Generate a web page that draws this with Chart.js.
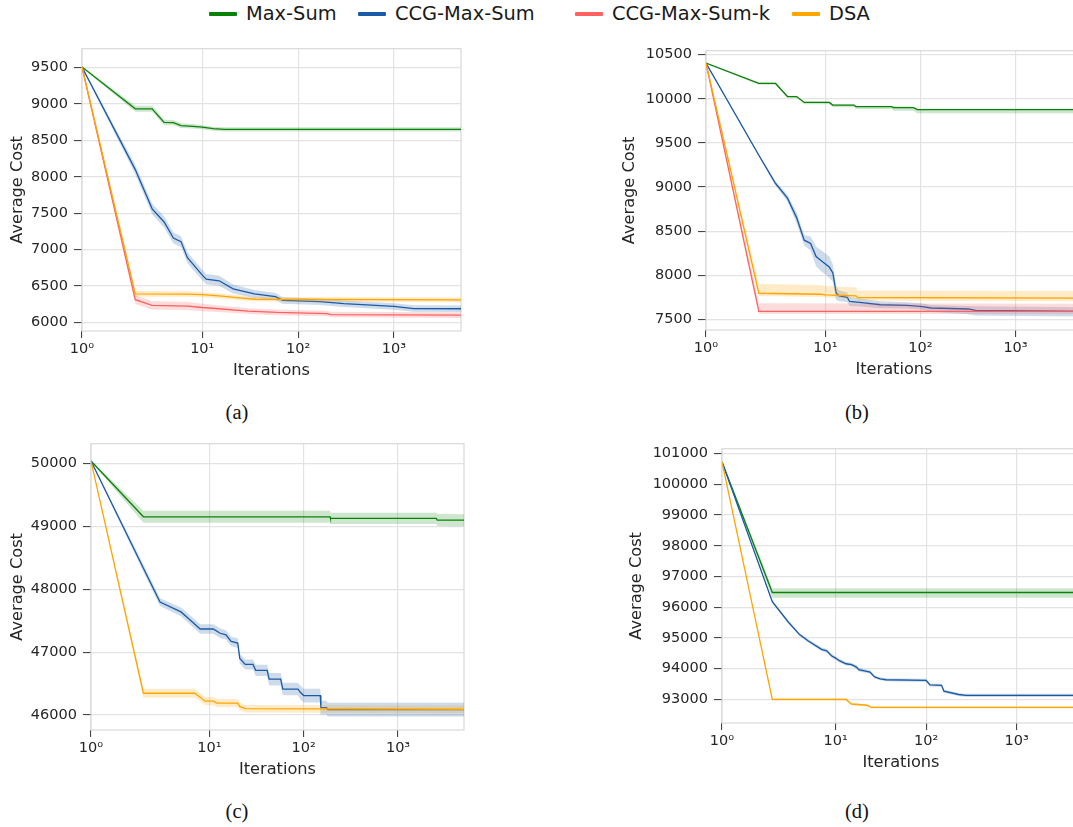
<!DOCTYPE html>
<html>
<head>
<meta charset="utf-8">
<script src="https://cdn.jsdelivr.net/npm/chart.js@4.4.1/dist/chart.umd.min.js"></script>
<style>
  body { margin: 0; width: 1073px; height: 827px; overflow: hidden; background: #fff; position: relative; font-family: 'DejaVu Sans', sans-serif; color: #1a1a1a; }
  .panel { position: absolute; }
  .legend-item { position: absolute; top: 2px; height: 24px; line-height: 24px; font-size: 19.4px; white-space: nowrap; }
  .legend-item span.sw { display: inline-block; width: 28px; height: 4px; border-radius: 1px; vertical-align: middle; margin-right: 9px; position: relative; top: -1px; }
  .cap { position: absolute; font-family: 'Liberation Serif', serif; font-size: 20.5px; color: #111; transform: translateX(-50%); }
</style>
</head>
<body>
<div class="legend-item" style="left:209px"><span class="sw" style="background:#0a820a"></span>Max-Sum</div>
<div class="legend-item" style="left:358px"><span class="sw" style="background:#1a5aa6"></span>CCG-Max-Sum</div>
<div class="legend-item" style="left:575px"><span class="sw" style="background:#ff6161"></span>CCG-Max-Sum-k</div>
<div class="legend-item" style="left:792px"><span class="sw" style="background:#ffa500"></span>DSA</div>

<div class="panel" style="left:0px;top:34px"><canvas id="chartA" width="471" height="352"></canvas></div>
<div class="panel" style="left:612px;top:36px"><canvas id="chartB" width="480" height="349"></canvas></div>
<div class="panel" style="left:0px;top:429px"><canvas id="chartC" width="474" height="356"></canvas></div>
<div class="panel" style="left:619px;top:434px"><canvas id="chartD" width="471" height="344"></canvas></div>

<div class="cap" style="left:237px;top:401px">(a)</div>
<div class="cap" style="left:857px;top:401px">(b)</div>
<div class="cap" style="left:237px;top:800px">(c)</div>
<div class="cap" style="left:857px;top:800px">(d)</div>

<script>
// x axis ticks (iterations, symlog axis)
const xTicks = [1, 10, 100, 1000];

// y axis ticks for each panel
const aTicks = [6000, 6500, 7000, 7500, 8000, 8500, 9000, 9500];
const bTicks = [7500, 8000, 8500, 9000, 9500, 10000, 10500];
const cTicks = [46000, 47000, 48000, 49000, 50000];
const dTicks = [93000, 94000, 95000, 96000, 97000, 98000, 99000, 100000, 101000];

// (a)
const aMaxSumX = [1, 2, 3, 4, 5, 6, 8, 10, 13, 17, 5000];
const aMaxSumY = [9510, 8935, 8935, 8748, 8745, 8703, 8695, 8682, 8662, 8652, 8652];
const aMaxSumUp = [10, 42, 42, 38, 36, 32, 30, 28, 28, 28, 28];
const aMaxSumDn = [10, 42, 42, 38, 36, 32, 30, 28, 28, 28, 28];

const aCcgX = [1, 2, 3, 4, 5, 6, 7, 8, 10, 11, 15, 21, 35, 58, 69, 170, 300, 1000, 1600, 5000];
const aCcgY = [9510, 8100, 7560, 7380, 7160, 7110, 6890, 6800, 6650, 6595, 6572, 6460, 6392, 6355, 6302, 6285, 6257, 6220, 6190, 6188];
const aCcgUp = [10, 65, 75, 75, 75, 75, 75, 75, 72, 70, 68, 62, 55, 50, 45, 45, 45, 45, 45, 45];
const aCcgDn = [10, 65, 75, 75, 75, 75, 75, 75, 72, 70, 68, 62, 55, 50, 45, 45, 45, 45, 45, 45];

const aCcgKX = [1, 2, 3, 7, 10, 15, 30, 60, 200, 220, 5000];
const aCcgKY = [9510, 6312, 6235, 6225, 6205, 6188, 6155, 6137, 6122, 6108, 6100];
const aCcgKUp = [10, 60, 58, 55, 50, 45, 40, 40, 38, 38, 38];
const aCcgKDn = [10, 60, 58, 55, 50, 45, 40, 40, 38, 38, 38];

const aDsaX = [1, 2, 7, 10, 16, 26, 36, 5000];
const aDsaY = [9510, 6392, 6390, 6382, 6360, 6333, 6318, 6310];
const aDsaUp = [10, 38, 38, 36, 34, 32, 32, 32];
const aDsaDn = [10, 38, 38, 36, 34, 32, 32, 32];

// (b)
const bMaxSumX = [1, 2, 3, 4, 5, 6, 11, 12, 20, 21, 50, 52, 84, 93, 5000];
const bMaxSumY = [10403, 10173, 10173, 10025, 10025, 9958, 9958, 9928, 9928, 9910, 9910, 9900, 9900, 9876, 9876];
const bMaxSumUp = [5, 10, 10, 10, 10, 10, 10, 10, 10, 10, 10, 12, 12, 12, 12];
const bMaxSumDn = [5, 15, 15, 15, 15, 20, 20, 25, 25, 25, 25, 35, 35, 40, 40];

const bCcgX = [1, 2, 3, 4, 5, 6, 7, 8, 9, 11, 12, 13, 14, 17, 18, 23, 38, 72, 100, 130, 320, 380, 5000];
const bCcgY = [10403, 9360, 9040, 8874, 8651, 8398, 8361, 8213, 8168, 8094, 8027, 7800, 7767, 7752, 7704, 7693, 7667, 7660, 7649, 7630, 7619, 7604, 7593];
const bCcgUp = [5, 15, 25, 40, 60, 60, 80, 110, 120, 120, 100, 80, 60, 55, 50, 45, 40, 35, 35, 35, 35, 45, 45];
const bCcgDn = [5, 15, 25, 40, 60, 60, 80, 110, 120, 120, 100, 80, 60, 55, 50, 45, 40, 35, 35, 45, 60, 60, 60];

const bCcgKX = [1, 2, 5000];
const bCcgKY = [10403, 7593, 7593];
const bCcgKUp = [5, 90, 85];
const bCcgKDn = [5, 30, 30];

const bDsaX = [1, 2, 9, 10, 21, 22, 5000];
const bDsaY = [10403, 7797, 7786, 7778, 7767, 7749, 7742];
const bDsaUp = [5, 105, 105, 100, 95, 80, 80];
const bDsaDn = [5, 30, 30, 30, 30, 35, 35];

// (c)
const cMaxSumX = [1, 2, 190, 192, 2540, 2600, 5000];
const cMaxSumY = [50042, 49154, 49154, 49128, 49128, 49102, 49100];
const cMaxSumUp = [10, 95, 95, 90, 90, 95, 95];
const cMaxSumDn = [10, 95, 95, 90, 90, 95, 95];

const cCcgX = [1, 2, 3, 5, 6, 8, 11, 13, 15, 17, 20, 21, 24, 29, 31, 41, 43, 57, 60, 87, 92, 100, 150, 152, 175, 180, 5000];
const cCcgY = [50042, 48334, 47796, 47640, 47535, 47368, 47368, 47300, 47274, 47170, 47144, 46898, 46804, 46804, 46710, 46710, 46569, 46569, 46412, 46412, 46360, 46308, 46308, 46115, 46115, 46083, 46083];
const cCcgUp = [10, 60, 60, 70, 70, 75, 75, 75, 75, 75, 75, 80, 80, 80, 90, 90, 100, 100, 100, 100, 110, 110, 110, 110, 110, 110, 110];
const cCcgDn = [10, 60, 60, 70, 70, 75, 75, 75, 75, 75, 75, 80, 80, 80, 90, 90, 100, 100, 100, 100, 110, 110, 110, 110, 110, 110, 110];

const cDsaX = [1, 2, 7, 8, 9, 11, 12, 20, 21, 24, 5000];
const cDsaY = [50042, 46345, 46345, 46282, 46219, 46219, 46188, 46188, 46136, 46099, 46090];
const cDsaUp = [10, 70, 70, 65, 65, 65, 65, 65, 65, 60, 60];
const cDsaDn = [10, 70, 70, 65, 65, 65, 65, 65, 65, 60, 60];

// (d)
const dMaxSumX = [1, 2, 5000];
const dMaxSumY = [100730, 96480, 96480];
const dMaxSumUp = [20, 140, 140];
const dMaxSumDn = [20, 170, 170];

const dCcgX = [1, 2, 3, 4, 5, 7, 8, 9, 10, 11, 13, 15, 17, 18, 24, 27, 31, 36, 100, 110, 148, 157, 228, 275, 5000];
const dCcgY = [100730, 96180, 95520, 95110, 94900, 94630, 94580, 94420, 94345, 94260, 94160, 94130, 94050, 93970, 93890, 93730, 93670, 93640, 93620, 93470, 93460, 93270, 93160, 93130, 93130];
const dCcgUp = [20, 50, 50, 50, 55, 60, 60, 60, 60, 60, 60, 60, 60, 60, 55, 50, 50, 50, 50, 50, 50, 50, 50, 50, 50];
const dCcgDn = [20, 50, 50, 50, 55, 60, 60, 60, 60, 60, 60, 60, 60, 60, 55, 50, 50, 50, 50, 50, 50, 50, 50, 50, 50];

const dDsaX = [1, 2, 13, 15, 22, 25, 5000];
const dDsaY = [100730, 93000, 93000, 92850, 92810, 92740, 92740];
const dDsaUp = [20, 40, 40, 40, 40, 40, 40];
const dDsaDn = [20, 40, 40, 40, 40, 40, 40];

const COLORS = {
  maxsum: { line: '#0a820a', band: 'rgba(10,130,10,0.2)' },
  ccg:    { line: '#1a5aa6', band: 'rgba(26,90,166,0.22)' },
  ccgk:   { line: '#ff6161', band: 'rgba(255,97,97,0.22)' },
  dsa:    { line: '#ffa500', band: 'rgba(255,165,0,0.22)' }
};

// symlog transform, matplotlib style (linthresh 2, linscale 1)
const LINTHRESH = 2;
const LINSCALE_ADJ = 1 / (1 - 1 / 10);
function symlog(v) {
  const a = Math.abs(v);
  if (a <= LINTHRESH) return v * LINSCALE_ADJ;
  return Math.sign(v) * LINTHRESH * (LINSCALE_ADJ + Math.log10(a / LINTHRESH));
}
function symexp(t) {
  const a = Math.abs(t);
  if (a <= LINTHRESH * LINSCALE_ADJ) return t / LINSCALE_ADJ;
  return Math.sign(t) * LINTHRESH * Math.pow(10, a / LINTHRESH - LINSCALE_ADJ);
}

class SymlogScale extends Chart.LinearScale {
  getPixelForValue(value) {
    if (value === null || value === undefined || isNaN(value)) return NaN;
    const a = symlog(this.min), b = symlog(this.max);
    return this.getPixelForDecimal((symlog(value) - a) / (b - a));
  }
  getValueForPixel(pixel) {
    const a = symlog(this.min), b = symlog(this.max);
    return symexp(a + this.getDecimalForPixel(pixel) * (b - a));
  }
}
SymlogScale.id = 'symlog';
SymlogScale.defaults = {};
Chart.register(SymlogScale);

Chart.defaults.font.family = "'DejaVu Sans', sans-serif";
Chart.defaults.color = '#262626';

const SUP = ['\u2070', '\u00b9', '\u00b2', '\u00b3'];

// light frame around plot area
const framePlugin = {
  id: 'frame',
  beforeDatasetsDraw(chart) {
    const { ctx, chartArea: c } = chart;
    ctx.save();
    ctx.strokeStyle = '#d9d9d9';
    ctx.lineWidth = 1.2;
    ctx.strokeRect(c.left, c.top, c.right - c.left, c.bottom - c.top);
    ctx.restore();
  }
};

function pts(xs, ys) {
  return xs.map((x, i) => ({ x: x, y: ys[i] }));
}

function makeChart(id, yW, ymin, ymax, yTicks, series) {
  const lines = [];
  const bands = [];
  const n = series.length;
  series.forEach((s, i) => {
    const col = COLORS[s.key];
    const depth = n - i; // earlier series drawn underneath
    lines.push({
      data: pts(s.x, s.y),
      borderColor: col.line,
      borderWidth: 1.3,
      pointRadius: 0,
      fill: false,
      tension: 0,
      order: depth * 2 - 1
    });
    bands.push({ s: s, col: col, depth: depth });
  });
  const datasets = lines.slice();
  bands.forEach(b => {
    const lowIdx = datasets.length;
    datasets.push({
      data: pts(b.s.x, b.s.y.map((v, i) => v - b.s.dn[i])),
      borderWidth: 0,
      pointRadius: 0,
      fill: false,
      order: b.depth * 2
    });
    datasets.push({
      data: pts(b.s.x, b.s.y.map((v, i) => v + b.s.up[i])),
      borderWidth: 0,
      pointRadius: 0,
      backgroundColor: b.col.band,
      fill: lowIdx,
      order: b.depth * 2
    });
  });

  new Chart(document.getElementById(id), {
    type: 'line',
    data: { datasets: datasets },
    plugins: [framePlugin],
    options: {
      responsive: false,
      animation: false,
      devicePixelRatio: 1,
      layout: { padding: { top: 10, right: 10, left: 0, bottom: 0 } },
      plugins: { legend: { display: false }, tooltip: { enabled: false } },
      scales: {
        x: {
          type: 'symlog',
          min: 1,
          max: 5000,
          afterBuildTicks: sc => { sc.ticks = xTicks.map(v => ({ value: v })); },
          afterFit: sc => { sc.height = 55; },
          border: { display: false },
          grid: { color: '#e3e3e3', lineWidth: 1.2, tickLength: 7, tickColor: '#333', tickWidth: 1 },
          ticks: {
            autoSkip: false, maxRotation: 0, padding: 3,
            font: { size: 14.5 },
            callback: v => '10' + SUP[Math.round(Math.log10(v))]
          },
          title: { display: true, text: 'Iterations', font: { size: 16.2 }, padding: { top: 0, bottom: 5 } }
        },
        y: {
          type: 'linear',
          min: ymin,
          max: ymax,
          afterBuildTicks: sc => { sc.ticks = yTicks.map(v => ({ value: v })); },
          afterFit: sc => { sc.width = yW; },
          border: { display: false },
          grid: { color: '#e3e3e3', lineWidth: 1.2, tickLength: 8, tickColor: '#333', tickWidth: 1 },
          ticks: { padding: 6, font: { size: 14.5 }, callback: v => String(v) },
          title: { display: true, text: 'Average Cost', font: { size: 16.2 }, padding: { top: 8, bottom: 0 } }
        }
      }
    }
  });
}

makeChart('chartA', 82, 5882, 9761, aTicks, [
  { key: 'maxsum', x: aMaxSumX, y: aMaxSumY, up: aMaxSumUp, dn: aMaxSumDn },
  { key: 'ccg', x: aCcgX, y: aCcgY, up: aCcgUp, dn: aCcgDn },
  { key: 'ccgk', x: aCcgKX, y: aCcgKY, up: aCcgKUp, dn: aCcgKDn },
  { key: 'dsa', x: aDsaX, y: aDsaY, up: aDsaUp, dn: aDsaDn }
]);
makeChart('chartB', 94, 7381, 10544, bTicks, [
  { key: 'maxsum', x: bMaxSumX, y: bMaxSumY, up: bMaxSumUp, dn: bMaxSumDn },
  { key: 'ccg', x: bCcgX, y: bCcgY, up: bCcgUp, dn: bCcgDn },
  { key: 'ccgk', x: bCcgKX, y: bCcgKY, up: bCcgKUp, dn: bCcgKDn },
  { key: 'dsa', x: bDsaX, y: bDsaY, up: bDsaUp, dn: bDsaDn }
]);
makeChart('chartC', 91, 45760, 50318, cTicks, [
  { key: 'maxsum', x: cMaxSumX, y: cMaxSumY, up: cMaxSumUp, dn: cMaxSumDn },
  { key: 'ccg', x: cCcgX, y: cCcgY, up: cCcgUp, dn: cCcgDn },
  { key: 'dsa', x: cDsaX, y: cDsaY, up: cDsaUp, dn: cDsaDn }
]);
makeChart('chartD', 103, 92232, 101160, dTicks, [
  { key: 'maxsum', x: dMaxSumX, y: dMaxSumY, up: dMaxSumUp, dn: dMaxSumDn },
  { key: 'ccg', x: dCcgX, y: dCcgY, up: dCcgUp, dn: dCcgDn },
  { key: 'dsa', x: dDsaX, y: dDsaY, up: dDsaUp, dn: dDsaDn }
]);
</script>
</body>
</html>
